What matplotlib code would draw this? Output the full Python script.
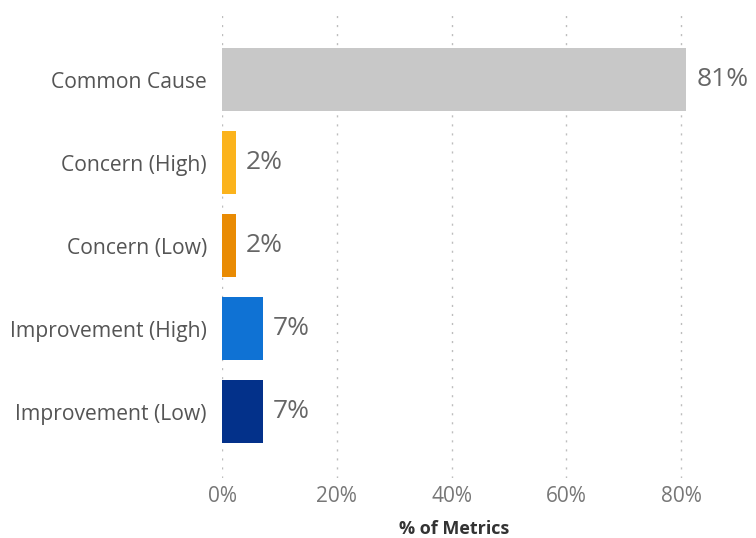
import matplotlib
matplotlib.use('Agg')
import matplotlib.pyplot as plt

categories = ['Common Cause', 'Concern (High)', 'Concern (Low)',
              'Improvement (High)', 'Improvement (Low)']
pct_metrics = [80.9, 2.4, 2.4, 7.2, 7.2]
bar_colors = ['#C8C8C8', '#FBB31C', '#E98B04', '#0F72D4', '#03318A']
ticks = [0, 20, 40, 60, 80]

plt.rcParams['font.family'] = ['Open Sans', 'DejaVu Sans']

fig = plt.figure(figsize=(7.56, 5.38), dpi=100)
ax = fig.add_axes([0.2937, 0.1115, 0.615, 0.864])

ypos = list(range(len(categories)))
ax.barh(ypos, pct_metrics, height=0.76, color=bar_colors, zorder=2)

# value labels to the right of each bar
for y, v in zip(ypos, pct_metrics):
    ax.text(v + 1.7, y, '%.0f%%' % v, va='center', ha='left',
            fontsize=19, color='#666666', clip_on=False)

ax.set_xlim(0, 81)
ax.set_ylim(4.8, -0.8)
ax.set_yticks(ypos)
ax.set_yticklabels(categories, fontsize=15.2, color='#555555')
ax.set_xticks(ticks)
ax.set_xticklabels(['%d%%' % t for t in ticks], fontsize=15, color='#777777')
ax.tick_params(length=0)
ax.tick_params(axis='y', pad=11)
ax.tick_params(axis='x', pad=6)

for t in ticks:
    ax.axvline(t, color='#BDBDBD', linestyle=(0, (1.5, 5)), linewidth=1, zorder=1)

for s in ax.spines.values():
    s.set_visible(False)

ax.set_xlabel('% of Metrics', fontsize=13, fontweight='bold', color='#333333',
              labelpad=9)

fig.savefig('out.png', dpi=100)
